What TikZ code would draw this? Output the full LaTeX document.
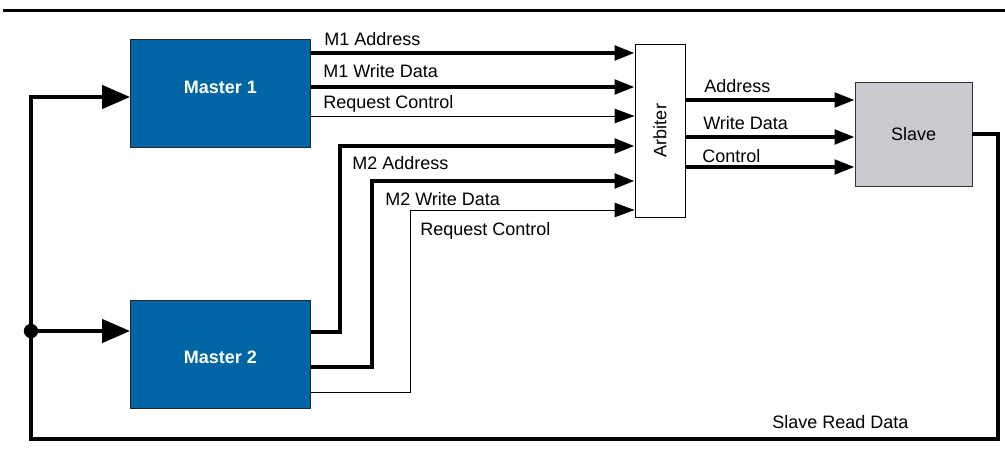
\documentclass[tikz,border=0pt]{standalone}
\usepackage{fontspec}
\setmainfont{Liberation Sans}
\usetikzlibrary{arrows.meta}
\definecolor{masterblue}{HTML}{0065A4}
\definecolor{slavegray}{HTML}{C8CAD0}

\begin{document}
\begin{tikzpicture}[x=0.025cm, y=-0.025cm,
  font=\fontsize{12.8}{15}\selectfont,
  bus/.style={line width=2.8pt, -{Triangle[length=0.5cm, width=0.36cm]}},
  sig/.style={line width=0.7pt, -{Triangle[length=0.5cm, width=0.36cm]}},
  feed/.style={line width=2.8pt, -{Triangle[length=0.7cm, width=0.58cm]}},
  lbl/.style={anchor=base west, inner sep=0pt},
  mtext/.style={text=white, font=\fontsize{12.8}{15}\selectfont\bfseries},
  master/.style={draw=black!85, line width=0.6pt, fill=masterblue,
    minimum width=4.5cm, minimum height=2.7cm}]
\useasboundingbox (0,0) rectangle (1005,453);
\draw [line width=2pt] (3,10.5) -- (1005,10.5);

% blocks
\node [master, label={[mtext, yshift=0.13cm]center:Master 1}] (m1) at (220.5,93) {};
\node [master, label={[mtext, yshift=-0.06cm]center:Master 2}] (m2) at (220.5,354.5) {};
\node [draw, line width=0.6pt, minimum width=1.25cm, minimum height=4.325cm,
  label={[rotate=90]center:Arbiter}] (arb) at (660,130.5) {};
\node [draw=black!80, line width=0.6pt, fill=slavegray, minimum width=2.925cm,
  minimum height=2.6cm] (slv) at (913.5,134) {Slave};

% arbiter inputs
\coordinate (i1) at (arb.west |- 0,53);
\coordinate (i2) at (arb.west |- 0,87);
\coordinate (i3) at (arb.west |- 0,116);
\coordinate (i4) at (arb.west |- 0,146);
\coordinate (i5) at (arb.west |- 0,181);
\coordinate (i6) at (arb.west |- 0,210);

\draw [bus] (m1.east |- i1) -- (i1);
\draw [bus] (m1.east |- i2) -- (i2);
\draw [sig] (m1.east |- i3) -- (i3);
\draw [bus] (m2.east |- 0,332) -| (340,146) -- (i4);
\draw [bus] (m2.east |- 0,367) -| (372,181) -- (i5);
\draw [sig] (m2.east |- 0,392) -| (410,210) -- (i6);

\node [lbl] (l1) at (324,46) {M1 Address};
\node [lbl] (l2) at (323,78) {M1 Write Data};
\node [lbl] (l3) at (323,108) {Request Control};
\node [lbl] (l4) at (352,169) {M2 Address};
\node [lbl] (l5) at (385,205) {M2 Write Data};
\node [lbl] (l6) at (420,235) {Request Control};

% arbiter to slave
\draw [bus] (arb.east |- 0,100) -- (slv.west |- 0,100);
\draw [bus] (arb.east |- 0,137) -- (slv.west |- 0,137);
\draw [bus] (arb.east |- 0,167) -- (slv.west |- 0,167);
\node [lbl] (l7) at (704,93) {Address};
\node [lbl] (l8) at (703,129) {Write Data};
\node [lbl] (l9) at (702,162) {Control};

% read data back to the masters
\coordinate (dot) at (31,331);
\draw [feed] (slv.east) -| (998,439) -| (31,97) -- (m1.west |- 0,97);
\draw [feed] (dot) -- (m2.west |- dot);
\fill (dot) circle [radius=0.18cm];
\node [lbl] (l10) at (772,428) {Slave Read Data};
\end{tikzpicture}
\end{document}
